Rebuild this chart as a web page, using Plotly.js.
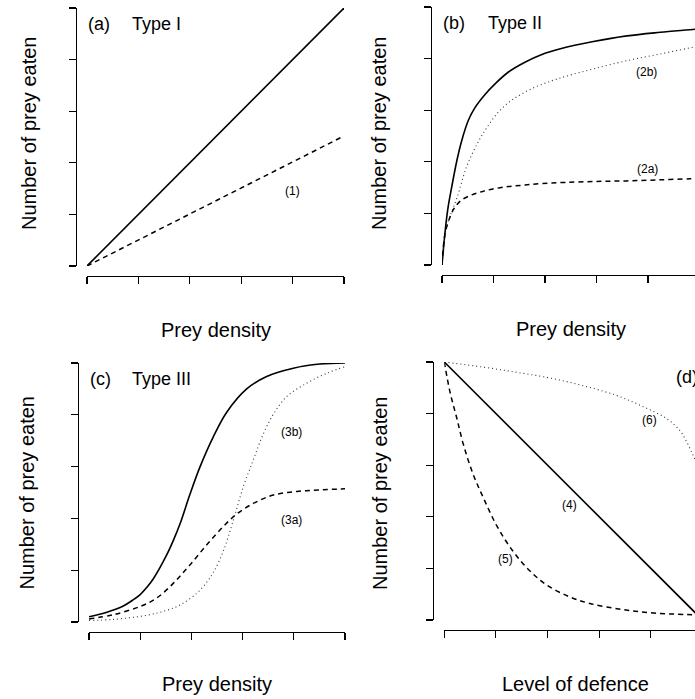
<!DOCTYPE html>
<html><head><meta charset="utf-8">
<script src="https://cdn.plot.ly/plotly-3.0.1.min.js"></script>
<style>html,body{margin:0;padding:0;background:#fff;overflow:hidden}#chart{width:695px;height:699px}</style>
</head><body><div id="chart"></div>
<script>
// ---------- data ----------
const tickVals = [0, 1, 2, 3, 4, 5];

// (a) Type I
const aX = [0, 5];
const aSolidY = [0, 5];
const aDashY = [0, 2.52];

// (b) Type II
const bSolidX = [0, 0.07, 0.12, 0.19, 0.29, 0.38, 0.51, 0.64, 0.84, 1.03, 1.29, 1.61, 1.94, 2.3, 2.94, 3.59, 4.24, 4.92, 5];
const bSolidY = [0, 0.74, 1.13, 1.52, 2.03, 2.40, 2.80, 3.05, 3.31, 3.51, 3.74, 3.93, 4.08, 4.19, 4.33, 4.44, 4.51, 4.57, 4.58];
const bDotX = [0, 0.06, 0.12, 0.19, 0.29, 0.48, 0.71, 0.87, 1.10, 1.36, 1.75, 2.13, 2.45, 2.94, 3.59, 4.24, 4.92];
const bDotY = [0, 0.60, 0.85, 1.04, 1.30, 1.91, 2.40, 2.66, 2.97, 3.20, 3.42, 3.57, 3.67, 3.80, 3.96, 4.09, 4.23];
const bDashX = [0, 0.06, 0.16, 0.25, 0.38, 0.58, 0.77, 0.97, 1.29, 1.61, 1.94, 2.39, 3.0, 3.59, 4.2, 4.82, 5];
const bDashY = [0, 0.61, 0.94, 1.12, 1.26, 1.36, 1.42, 1.47, 1.52, 1.55, 1.58, 1.60, 1.62, 1.63, 1.65, 1.67, 1.67];

// (c) Type III
const cSolidX = [0, 0.35, 0.67, 0.85, 1.0, 1.13, 1.26, 1.52, 1.65, 1.78, 1.97, 2.17, 2.43, 2.69, 3.08, 3.47, 3.99, 4.51, 5];
const cSolidY = [0.10, 0.19, 0.31, 0.42, 0.53, 0.67, 0.84, 1.30, 1.58, 1.90, 2.46, 3.0, 3.58, 4.05, 4.50, 4.74, 4.90, 4.98, 5.0];
const cDashX = [0, 0.47, 1.0, 1.32, 1.65, 1.97, 2.30, 2.62, 2.88, 3.21, 3.60, 4.06, 4.51, 5];
const cDashY = [0.06, 0.14, 0.30, 0.46, 0.75, 1.10, 1.49, 1.84, 2.08, 2.29, 2.45, 2.52, 2.55, 2.57];
const cDotX = [0, 0.47, 1.13, 1.50, 1.78, 2.10, 2.30, 2.43, 2.62, 2.82, 3.01, 3.21, 3.40, 3.60, 3.86, 4.25, 4.64, 5];
const cDotY = [0.03, 0.05, 0.13, 0.22, 0.33, 0.55, 0.77, 0.96, 1.36, 1.97, 2.60, 3.13, 3.62, 4.01, 4.35, 4.61, 4.80, 4.93];

// (d) Level of defence
const dSolidX = [0, 5];
const dSolidY = [5, 0];
const dDashX = [0, 0.11, 0.24, 0.37, 0.56, 0.76, 1.02, 1.34, 1.66, 1.98, 2.40, 2.82, 3.47, 4.12, 4.86, 5];
const dDashY = [5, 4.42, 3.92, 3.40, 2.82, 2.36, 1.82, 1.32, 0.95, 0.68, 0.46, 0.32, 0.20, 0.13, 0.10, 0.09];
const dDotX = [0, 0.76, 1.40, 2.05, 2.69, 3.34, 3.86, 4.31, 4.57, 4.70, 4.80, 4.86, 4.95];
const dDotY = [5, 4.90, 4.80, 4.69, 4.54, 4.35, 4.13, 3.90, 3.66, 3.44, 3.23, 3.09, 2.80];

// text
const panelLetters = ['(a)', '(b)', '(c)', '(d)'];
const panelTypes = ['Type I', 'Type II', 'Type III', ''];
const xTitles = ['Prey density', 'Prey density', 'Prey density', 'Level of defence'];
const yTitle = 'Number of prey eaten';
const curveLabels = [
  {t: '(1)', p: 0, x: 4.0, y: 1.46},
  {t: '(2b)', p: 1, x: 3.98, y: 3.75},
  {t: '(2a)', p: 1, x: 3.99, y: 1.86},
  {t: '(3b)', p: 2, x: 3.96, y: 3.67},
  {t: '(3a)', p: 2, x: 3.96, y: 1.97},
  {t: '(4)', p: 3, x: 2.42, y: 2.22},
  {t: '(5)', p: 3, x: 1.18, y: 1.19},
  {t: '(6)', p: 3, x: 3.97, y: 3.88}
];

// ---------- layout geometry (pixels) ----------
const W = 695, H = 699;
const frames = [
  {x0: 87,    x1: 344,   yt: 8,   yb: 266, yl: 76,  xl: 276},
  {x0: 442,   x1: 699.5, yt: 7,   yb: 265, yl: 431, xl: 275},
  {x0: 89,    x1: 345,   yt: 363, yb: 622, yl: 78,  xl: 632},
  {x0: 444.3, x1: 702.5, yt: 362, yb: 620, yl: 433, xl: 630}
];
const FONT = 'Liberation Sans, Arial, Helvetica, sans-serif';
const px = v => v / W;
const py = v => 1 - v / H;

const layout = {
  width: W, height: H,
  margin: {l: 0, r: 0, t: 0, b: 0},
  paper_bgcolor: '#fff', plot_bgcolor: 'rgba(0,0,0,0)',
  showlegend: false,
  font: {family: FONT, color: '#000'},
  annotations: []
};
const ids = ['', '2', '3', '4'];
frames.forEach((f, i) => {
  const xr = Math.min(f.x1, W);
  layout['xaxis' + ids[i]] = {
    domain: [px(f.x0), px(xr)],
    range: [0, 5 * (xr - f.x0) / (f.x1 - f.x0)],
    anchor: 'free', position: py(f.xl),
    showline: true, linecolor: '#000', linewidth: 1.3,
    ticks: 'outside', ticklen: 7, tickwidth: 1.1, tickcolor: '#000',
    tickmode: 'array', tickvals: tickVals, showticklabels: false,
    showgrid: false, zeroline: false, fixedrange: true
  };
  layout['yaxis' + ids[i]] = {
    domain: [py(f.yb), py(f.yt)],
    range: [0, 5],
    anchor: 'free', position: px(f.yl),
    showline: true, linecolor: '#000', linewidth: 1.3,
    ticks: 'outside', ticklen: 7, tickwidth: 1.1, tickcolor: '#000',
    tickmode: 'array', tickvals: tickVals, showticklabels: false,
    showgrid: false, zeroline: false, fixedrange: true
  };
});

// titles & panel labels (paper coordinates)
const xTitlePos = [[215.5, 330], [571, 329], [217, 684], [575, 684]];
const yTitlePos = [[29, 134], [379, 134], [26.5, 493], [380, 494]];
const letterPos = [[86, 23.5], [441, 23], [88, 379], [674, 377]];
const typePos = [[130, 23.5], [486, 23], [130, 379], [0, 0]];
for (let i = 0; i < 4; i++) {
  layout.annotations.push({xref: 'paper', yref: 'paper', x: px(xTitlePos[i][0]), y: py(xTitlePos[i][1]),
    xanchor: 'center', yanchor: 'middle', showarrow: false, text: xTitles[i], font: {size: 20, family: FONT, color: '#000'}});
  layout.annotations.push({xref: 'paper', yref: 'paper', x: px(yTitlePos[i][0]), y: py(yTitlePos[i][1]),
    xanchor: 'center', yanchor: 'middle', showarrow: false, textangle: -90, text: yTitle, font: {size: 20, family: FONT, color: '#000'}});
  layout.annotations.push({xref: 'paper', yref: 'paper', x: px(letterPos[i][0]), y: py(letterPos[i][1]),
    xanchor: 'left', yanchor: 'middle', showarrow: false, text: panelLetters[i], font: {size: 18, family: FONT, color: '#000'}});
  if (panelTypes[i]) {
    layout.annotations.push({xref: 'paper', yref: 'paper', x: px(typePos[i][0]), y: py(typePos[i][1]),
      xanchor: 'left', yanchor: 'middle', showarrow: false, text: panelTypes[i], font: {size: 18, family: FONT, color: '#000'}});
  }
}
curveLabels.forEach(c => {
  layout.annotations.push({xref: 'x' + ids[c.p], yref: 'y' + ids[c.p], x: c.x, y: c.y,
    xanchor: 'center', yanchor: 'middle', showarrow: false, text: c.t, font: {size: 12, family: FONT, color: '#000'}});
});

// ---------- traces ----------
const SOLID = {color: '#000', width: 1.6, dash: 'solid'};
const DASH = {color: '#000', width: 1.5, dash: '5px,4px'};
const DOT = {color: '#333', width: 1.1, dash: '1px,3px'};
function tr(x, y, p, line, spline) {
  return {x: x, y: y, xaxis: 'x' + ids[p], yaxis: 'y' + ids[p], type: 'scatter', mode: 'lines',
    cliponaxis: false, hoverinfo: 'skip',
    line: Object.assign({}, line, spline ? {shape: 'spline', smoothing: 1} : {})};
}
const data = [
  tr(aX, aSolidY, 0, SOLID, false),
  tr(aX, aDashY, 0, DASH, false),
  tr(bSolidX, bSolidY, 1, SOLID, true),
  tr(bDotX, bDotY, 1, DOT, true),
  tr(bDashX, bDashY, 1, DASH, true),
  tr(cSolidX, cSolidY, 2, SOLID, true),
  tr(cDashX, cDashY, 2, DASH, true),
  tr(cDotX, cDotY, 2, DOT, true),
  tr(dSolidX, dSolidY, 3, SOLID, false),
  tr(dDashX, dDashY, 3, DASH, true),
  tr(dDotX, dDotY, 3, DOT, true)
];

Plotly.newPlot('chart', data, layout, {staticPlot: true, displayModeBar: false});
</script></body></html>
